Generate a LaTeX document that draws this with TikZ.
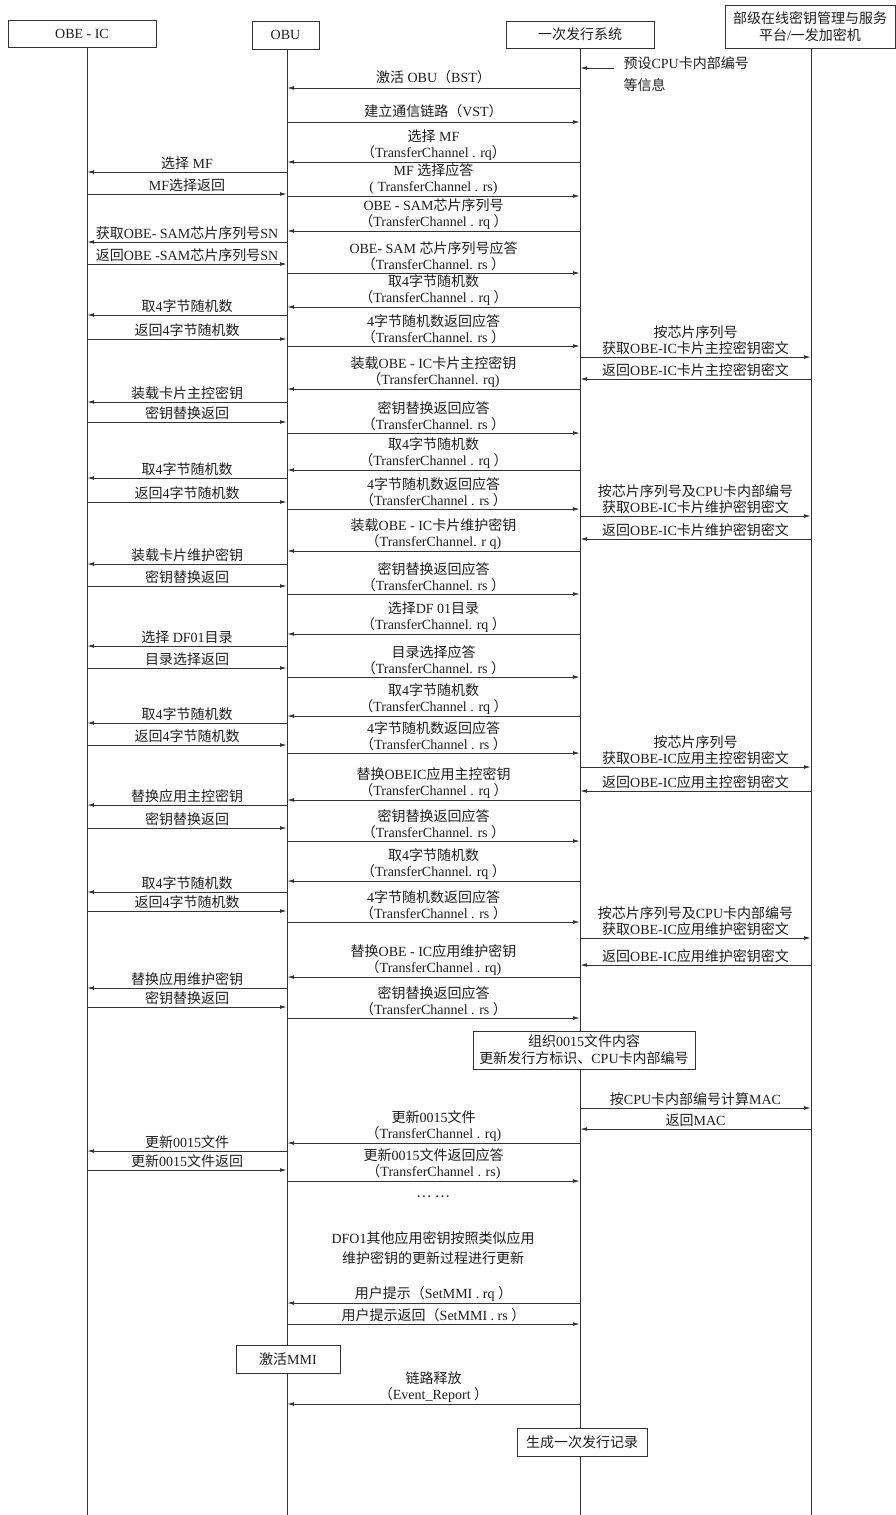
\documentclass[tikz,border=0pt]{standalone}
\usepackage{fontspec}
\usepackage{tikz}
\usetikzlibrary{arrows.meta}
\setmainfont{Liberation Serif}
\newfontfamily\cjkfont{Noto Sans CJK SC}
\newfontfamily\latinfont{Liberation Serif}
\XeTeXinterchartokenstate=1
\newXeTeXintercharclass\cjkclass
\newcount\cjkcode
\cjkcode="3000
\loop\ifnum\cjkcode<"3040 \XeTeXcharclass\cjkcode=\cjkclass \advance\cjkcode by 1 \repeat
\cjkcode="4E00
\loop\ifnum\cjkcode<"A000 \XeTeXcharclass\cjkcode=\cjkclass \advance\cjkcode by 1 \repeat
\cjkcode="FF00
\loop\ifnum\cjkcode<"FFF0 \XeTeXcharclass\cjkcode=\cjkclass \advance\cjkcode by 1 \repeat
\XeTeXcharclass"2026=\cjkclass
\XeTeXinterchartoks 0 \cjkclass={\cjkfont}
\XeTeXinterchartoks 4095 \cjkclass={\cjkfont}
\XeTeXinterchartoks \cjkclass 0={\latinfont}
\XeTeXinterchartoks \cjkclass 4095={\latinfont}
\definecolor{ink}{HTML}{1E1E1E}
\definecolor{wire}{HTML}{333333}
\newcommand{\sendmsg}[4]{\draw[msg] (#2 |- 0,#1) -- node[lbl] {#4} (#3 |- 0,#1);}

\begin{document}
\begin{tikzpicture}[x=1pt,y=-1pt,
  head/.style={draw=wire,fill=white,line width=1pt,minimum height=27pt,inner sep=2pt,align=center,text=ink,font=\fontsize{14}{17}\selectfont},
  life/.style={draw=wire,line width=1pt},
  msg/.style={draw=wire,line width=1pt,-{Latex[length=7pt,width=3.8pt]}},
  lbl/.style={above,inner sep=1.5pt,align=center,text=ink,font=\fontsize{14}{16}\selectfont},
  note/.style={align=center,text=ink,font=\fontsize{14}{20}\selectfont}
]
  \useasboundingbox (0,0) rectangle (896,1515);
  \fill[white] (0,0) rectangle (896,1515);
  \coordinate (L1) at (87,47);
  \coordinate (L2) at (287,49);
  \coordinate (L3) at (580,48);
  \coordinate (L4) at (811,48);
  \foreach \l in {L1,L2,L3,L4} \draw[life] (\l) -- (\l |- 0,1515);
  \node[head,minimum width=148pt]                   (ic)  at (82,33.5)  {OBE - IC};
  \node[head,minimum width=67pt,minimum height=28pt] (obu) at (285.5,35) {OBU};
  \node[head,minimum width=148pt]                   (sys) at (580,34.5) {一次发行系统};
  \node[head,minimum width=170pt,minimum height=43pt] (kms) at (810,26.5) {部级在线密钥管理与服务\\平台/一发加密机};

  \node[note,align=left,anchor=west,font=\fontsize{14}{22}\selectfont] (preset) at (620,74) {预设CPU卡内部编号\\等信息};
  \coordinate (presetarr) at (614,68);
  \draw[msg] (presetarr) -- (L3 |- presetarr);

  \sendmsg{88}{L3}{L2}{激活 OBU（BST）\\[-12pt]\mbox{}}
  \sendmsg{122}{L2}{L3}{建立通信链路（VST）\\[-12pt]\mbox{}}
  \sendmsg{162}{L3}{L2}{选择 MF\\（TransferChannel . rq）}
  \sendmsg{172}{L2}{L1}{选择 MF}
  \sendmsg{194}{L1}{L2}{MF选择返回}
  \sendmsg{196}{L2}{L3}{MF 选择应答\\( TransferChannel . rs)}
  \sendmsg{231}{L3}{L2}{OBE - SAM芯片序列号\\（TransferChannel . rq ）}
  \sendmsg{242}{L2}{L1}{获取OBE- SAM芯片序列号SN}
  \sendmsg{264}{L1}{L2}{返回OBE -SAM芯片序列号SN}
  \sendmsg{273}{L2}{L3}{OBE- SAM 芯片序列号应答\\（TransferChannel. rs ）}
  \sendmsg{307}{L3}{L2}{取4字节随机数\\（TransferChannel . rq ）}
  \sendmsg{315}{L2}{L1}{取4字节随机数}
  \sendmsg{339}{L1}{L2}{返回4字节随机数}
  \sendmsg{346}{L2}{L3}{4字节随机数返回应答\\（TransferChannel. rs ）}
  \sendmsg{357}{L3}{L4}{按芯片序列号\\获取OBE-IC卡片主控密钥密文}
  \sendmsg{379}{L4}{L3}{返回OBE-IC卡片主控密钥密文}
  \sendmsg{389}{L3}{L2}{装载OBE - IC卡片主控密钥\\（TransferChannel. rq)}
  \sendmsg{402}{L2}{L1}{装载卡片主控密钥}
  \sendmsg{422}{L1}{L2}{密钥替换返回}
  \sendmsg{433}{L2}{L3}{密钥替换返回应答\\（TransferChannel. rs ）}
  \sendmsg{470}{L3}{L2}{取4字节随机数\\（TransferChannel . rq ）}
  \sendmsg{478}{L2}{L1}{取4字节随机数}
  \sendmsg{502}{L1}{L2}{返回4字节随机数}
  \sendmsg{509}{L2}{L3}{4字节随机数返回应答\\（TransferChannel . rs ）}
  \sendmsg{516}{L3}{L4}{按芯片序列号及CPU卡内部编号\\获取OBE-IC卡片维护密钥密文}
  \sendmsg{539}{L4}{L3}{返回OBE-IC卡片维护密钥密文}
  \sendmsg{551}{L3}{L2}{装载OBE - IC卡片维护密钥\\（TransferChannel. r q)}
  \sendmsg{564}{L2}{L1}{装载卡片维护密钥}
  \sendmsg{586}{L1}{L2}{密钥替换返回}
  \sendmsg{594}{L2}{L3}{密钥替换返回应答\\（TransferChannel. rs ）}
  \sendmsg{634}{L3}{L2}{选择DF 01目录\\（TransferChannel. rq ）}
  \sendmsg{646}{L2}{L1}{选择 DF01目录}
  \sendmsg{668}{L1}{L2}{目录选择返回}
  \sendmsg{677}{L2}{L3}{目录选择应答\\（TransferChannel. rs ）}
  \sendmsg{716}{L3}{L2}{取4字节随机数\\（TransferChannel . rq ）}
  \sendmsg{723}{L2}{L1}{取4字节随机数}
  \sendmsg{745}{L1}{L2}{返回4字节随机数}
  \sendmsg{753}{L2}{L3}{4字节随机数返回应答\\（TransferChannel . rs ）}
  \sendmsg{767}{L3}{L4}{按芯片序列号\\获取OBE-IC应用主控密钥密文}
  \sendmsg{791}{L4}{L3}{返回OBE-IC应用主控密钥密文}
  \sendmsg{800}{L3}{L2}{替换OBEIC应用主控密钥\\（TransferChannel . rq ）}
  \sendmsg{805}{L2}{L1}{替换应用主控密钥}
  \sendmsg{828}{L1}{L2}{密钥替换返回}
  \sendmsg{841}{L2}{L3}{密钥替换返回应答\\（TransferChannel. rs ）}
  \sendmsg{881}{L3}{L2}{取4字节随机数\\（TransferChannel. rq ）}
  \sendmsg{892}{L2}{L1}{取4字节随机数}
  \sendmsg{911}{L1}{L2}{返回4字节随机数}
  \sendmsg{922}{L2}{L3}{4字节随机数返回应答\\（TransferChannel . rs ）}
  \sendmsg{938}{L3}{L4}{按芯片序列号及CPU卡内部编号\\获取OBE-IC应用维护密钥密文}
  \sendmsg{965}{L4}{L3}{返回OBE-IC应用维护密钥密文}
  \sendmsg{977}{L3}{L2}{替换OBE - IC应用维护密钥\\（TransferChannel . rq)}
  \sendmsg{988}{L2}{L1}{替换应用维护密钥}
  \sendmsg{1007}{L1}{L2}{密钥替换返回}
  \sendmsg{1018}{L2}{L3}{密钥替换返回应答\\（TransferChannel . rs ）}
  \sendmsg{1108}{L3}{L4}{按CPU卡内部编号计算MAC}
  \sendmsg{1129}{L4}{L3}{返回MAC}
  \sendmsg{1143}{L3}{L2}{更新0015文件\\（TransferChannel . rq)}
  \sendmsg{1151}{L2}{L1}{更新0015文件}
  \sendmsg{1170}{L1}{L2}{更新0015文件返回}
  \sendmsg{1181}{L2}{L3}{更新0015文件返回应答\\（TransferChannel . rs)}
  \sendmsg{1303}{L3}{L2}{用户提示（SetMMI . rq ）}
  \sendmsg{1324}{L2}{L3}{用户提示返回（SetMMI . rs ）}
  \sendmsg{1404}{L3}{L2}{链路释放\\（Event\_Report ）}

  \node[head,minimum width=222pt,minimum height=38pt] (org) at (584,1050) {组织0015文件内容\\更新发行方标识、CPU卡内部编号};
  \node[head,minimum width=104pt,minimum height=28pt] (mmi) at (288,1359) {激活MMI};
  \node[head,minimum width=130pt,minimum height=28pt] (rec) at (582,1442) {生成一次发行记录};
  \node[note] (dots)  at (433,1197) {… …};
  \node[note] (other) at (433,1248) {DFO1其他应用密钥按照类似应用\\维护密钥的更新过程进行更新};
\end{tikzpicture}
\end{document}
